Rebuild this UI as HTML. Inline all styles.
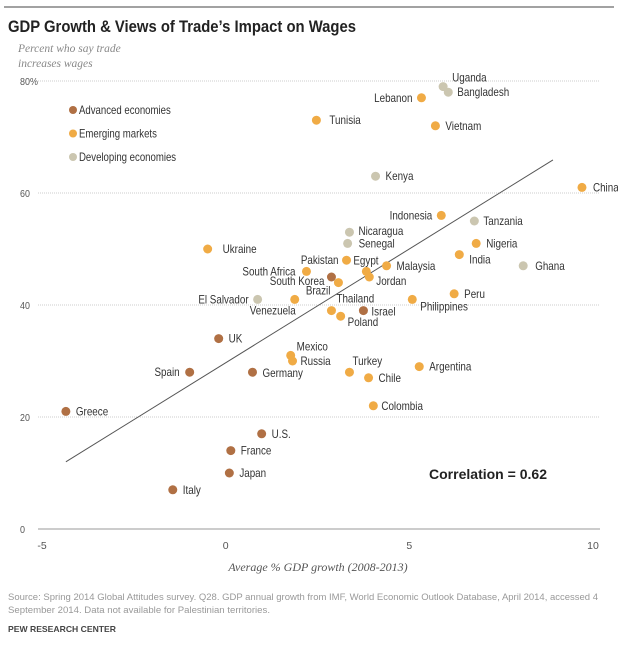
<!DOCTYPE html>
<html><head><meta charset="utf-8"><style>
body{margin:0;background:#fff;width:618px;height:640px;overflow:hidden;font-family:"Liberation Sans",sans-serif}
</style></head><body>
<svg id="chart" width="618" height="640" xmlns="http://www.w3.org/2000/svg" font-family="'Liberation Sans',sans-serif">
<line x1="4" y1="7" x2="614" y2="7" stroke="#444" stroke-width="1"/>
<text x="8" y="32" font-size="17" font-weight="bold" fill="#222" textLength="348" lengthAdjust="spacingAndGlyphs">GDP Growth &amp; Views of Trade’s Impact on Wages</text>
<text x="18" y="52" font-size="11.5" font-style="italic" fill="#888" font-family="'Liberation Serif',serif">Percent who say trade</text>
<text x="18" y="67" font-size="11.5" font-style="italic" fill="#888" font-family="'Liberation Serif',serif">increases wages</text>
<g id="grid"></g>
<g id="legend"></g>
<line id="trend" stroke="#555" stroke-width="1"/>
<g id="points"></g>
<text x="429" y="479" font-size="14" font-weight="bold" fill="#222" textLength="118" lengthAdjust="spacingAndGlyphs">Correlation = 0.62</text>
<text x="318" y="571" text-anchor="middle" font-size="12" font-style="italic" fill="#555" font-family="'Liberation Serif',serif">Average % GDP growth (2008-2013)</text>
<text x="8" y="600" font-size="9.5" fill="#999" textLength="590" lengthAdjust="spacingAndGlyphs">Source: Spring 2014 Global Attitudes survey. Q28. GDP annual growth from IMF, World Economic Outlook Database, April 2014, accessed 4</text>
<text x="8" y="613" font-size="9.5" fill="#999" textLength="262" lengthAdjust="spacingAndGlyphs">September 2014. Data not available for Palestinian territories.</text>
<text x="8" y="632" font-size="8.5" font-weight="bold" fill="#444" textLength="108" lengthAdjust="spacingAndGlyphs">PEW RESEARCH CENTER</text>
</svg>
<script>
const NS="http://www.w3.org/2000/svg";
const countries=["Greece","Spain","UK","Germany","U.S.","France","Japan","Italy","Israel","South Korea",
"Lebanon","Tunisia","Vietnam","China","Indonesia","Nigeria","India","Ukraine","Pakistan","Egypt","Jordan","Malaysia","South Africa","Brazil","Venezuela","Thailand","Poland","Philippines","Peru","Mexico","Russia","Turkey","Chile","Argentina","Colombia",
"Uganda","Bangladesh","Kenya","Tanzania","Nicaragua","Senegal","Ghana","El Salvador"];
const gdpGrowth=[-4.35,-0.98,-0.19,0.73,0.98,0.14,0.1,-1.44,3.75,2.88,
5.33,2.47,5.71,9.7,5.87,6.82,6.36,-0.49,3.29,3.83,3.91,4.38,2.2,3.07,1.88,2.88,3.13,5.08,6.22,1.77,1.82,3.37,3.89,5.27,4.02,
5.92,6.06,4.08,6.77,3.37,3.32,8.1,0.87];
const tradeWages=[21,28,34,28,17,14,10,7,39,45,
77,73,72,61,56,51,49,50,48,46,45,47,46,44,41,39,38,41,42,31,30,28,27,29,22,
79,78,63,55,53,51,47,41];
const groups=["a","a","a","a","a","a","a","a","a","a",
"e","e","e","e","e","e","e","e","e","e","e","e","e","e","e","e","e","e","e","e","e","e","e","e","e",
"d","d","d","d","d","d","d","d"];
const groupNames={a:"Advanced economies",e:"Emerging markets",d:"Developing economies"};
const xTicks=[-5,0,5,10];
const yTicks=[0,20,40,60,80];
const trendX=[-4.35,8.91];
const trendY=[12,65.9];
const labelLayout={"Greece":["s",10,0],"Spain":["e",-10,0],"UK":["s",10,0],"Germany":["s",10,1],"U.S.":["s",10,0],"France":["s",10,0],"Japan":["s",10,0],"Italy":["s",10,0],"Israel":["s",8,1],"South Korea":["e",-7,4],
"Lebanon":["e",-9,0],"Tunisia":["s",13,0],"Vietnam":["s",10,0],"China":["s",11,0],"Indonesia":["e",-9,0],"Nigeria":["s",10,0],"India":["s",10,5],"Ukraine":["s",15,0],"Pakistan":["e",-8,0],"Egypt":["s",-13,-11],"Jordan":["s",7,4],"Malaysia":["s",10,0],"South Africa":["e",-11,0],"Brazil":["e",-8,8],"Venezuela":["e",1,11],"Thailand":["s",5,-12],"Poland":["s",7,6],"Philippines":["s",8,7],"Peru":["s",10,0],"Mexico":["s",6,-9],"Russia":["s",8,0],"Turkey":["s",3,-11],"Chile":["s",10,0],"Argentina":["s",10,0],"Colombia":["s",8,0],
"Uganda":["s",9,-9],"Bangladesh":["s",9,0],"Kenya":["s",10,0],"Tanzania":["s",9,0],"Nicaragua":["s",9,-1],"Senegal":["s",11,0],"Ghana":["s",12,0],"El Salvador":["e",-9,0]};
const colors={a:"#b07044",e:"#f0ab45",d:"#cbc6b0"};
const X0=-5,X1=10,PX0=42,PX1=593,Y0=0,Y1=80,PY0=529,PY1=81;
const sx=v=>PX0+(v-X0)/(X1-X0)*(PX1-PX0);
const sy=v=>PY0-(v-Y0)/(Y1-Y0)*(PY0-PY1);
const grid=document.getElementById("grid");
function mk(tag,attrs,parent){const e=document.createElementNS(NS,tag);for(const k in attrs)e.setAttribute(k,attrs[k]);parent.appendChild(e);return e;}
function narrow(t,f){const l=t.getComputedTextLength();if(l>0){t.setAttribute("textLength",(l*f).toFixed(1));t.setAttribute("lengthAdjust","spacingAndGlyphs");}}
yTicks.forEach(t=>{
  const l=mk("line",{x1:38,x2:600,y1:sy(t),y2:sy(t),stroke:t===0?"#999":"#ccc","stroke-width":1,"stroke-dasharray":t===0?"":"1,1"},grid);
  
  
  const tx=mk("text",{x:20,y:sy(t)+4,"font-size":10.5,fill:"#555"},grid);
  tx.textContent=t===80?"80%":String(t);
  
  
  narrow(tx,0.85);
});
xTicks.forEach(t=>{
  const tx=mk("text",{x:sx(t),y:549,"font-size":10.5,fill:"#555","text-anchor":"middle"},grid);
  tx.textContent=String(t);
  
  
});
const leg=document.getElementById("legend");
["a","e","d"].forEach((g,i)=>{
  const c=mk("circle",{cx:73,cy:110+i*23.5,r:4,fill:colors[g]},leg);
  
  
  const t=mk("text",{x:79,y:114+i*23.5,"font-size":12,fill:"#333"},leg);
  t.textContent=groupNames[g];
  
  
  narrow(t,0.8);
});
const tr=document.getElementById("trend");
tr.setAttribute("x1",sx(trendX[0]));tr.setAttribute("y1",sy(trendY[0]));
tr.setAttribute("x2",sx(trendX[1]));tr.setAttribute("y2",sy(trendY[1]));
const pts=document.getElementById("points");
countries.forEach((n,i)=>{
  const cx=sx(gdpGrowth[i]),cy=sy(tradeWages[i]);
  const c=mk("circle",{cx:cx,cy:cy,r:4.5,fill:colors[groups[i]]},pts);
  
  
  const L=labelLayout[n]||["s",9,0];
  const t=mk("text",{x:cx+L[1],y:cy+L[2]+4,"font-size":12,fill:"#333","text-anchor":L[0]==="e"?"end":"start"},pts);
  t.textContent=n;
  
  
  narrow(t,0.82);
});
</script>
</body></html>
